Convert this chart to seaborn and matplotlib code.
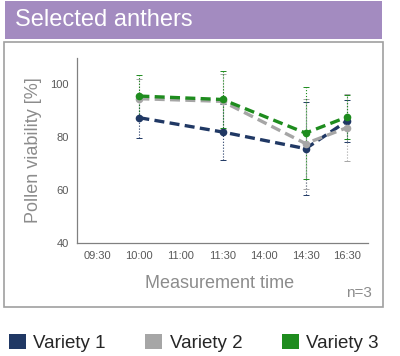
import numpy as np
import pandas as pd
import matplotlib
matplotlib.use("Agg")
import matplotlib.pyplot as plt
from matplotlib.patches import Rectangle, Patch
import seaborn as sns

# data
times = ["09:30", "10:00", "11:00", "11:30", "14:00", "14:30", "16:30"]
measured = ["10:00", "11:30", "14:30", "16:30"]
varieties = ["Variety 1", "Variety 2", "Variety 3"]
v1_mean = [87.4, 82.0, 75.7, 86.2]
v1_err = [7.5, 10.7, 17.5, 8.0]
v2_mean = [94.6, 93.6, 77.6, 83.7]
v2_err = [7.5, 10.5, 17.0, 12.7]
v3_mean = [95.6, 94.3, 81.6, 87.7]
v3_err = [7.8, 10.7, 17.4, 8.3]
colors = ["#203864", "#A6A6A6", "#1E8C1E"]

rows = []
for name, m, e in zip(varieties, [v1_mean, v2_mean, v3_mean], [v1_err, v2_err, v3_err]):
    for t, mv, ev in zip(measured, m, e):
        rows.append({"variety": name, "time": t, "pos": times.index(t), "viability": mv, "err": ev})
df = pd.DataFrame(rows)

sns.set_style("white")
plt.rcParams["font.family"] = ["Liberation Sans", "DejaVu Sans"]

fig = plt.figure(figsize=(4.0, 3.56), dpi=100)

# purple title bar and grey frame
fig.patches.append(Rectangle((5 / 400, 1 - 39 / 356), 377 / 400, 38 / 356, transform=fig.transFigure,
                             facecolor="#A38BC0", edgecolor="none"))
fig.text(15 / 400, 1 - 20 / 356, "Selected anthers", color="white", fontsize=17, va="center", ha="left")
fig.patches.append(Rectangle((4 / 400, 1 - 307 / 356), 379 / 400, 265 / 356, transform=fig.transFigure,
                             facecolor="none", edgecolor="#A0A0A0", linewidth=1.2))

ax = fig.add_axes([77 / 400, 1 - 243 / 356, 291 / 400, 185 / 356])

# dotted error bars
for name, c in zip(varieties, colors):
    sub = df[df["variety"] == name]
    eb = ax.errorbar(sub["pos"], sub["viability"], yerr=sub["err"], fmt="none", ecolor=c,
                     elinewidth=0.8, capsize=2, capthick=0.7, zorder=2)
    eb[2][0].set_linestyle(":")

n_before = len(ax.lines)
sns.lineplot(data=df, x="pos", y="viability", hue="variety", palette=colors, hue_order=varieties,
             marker="o", markersize=5.5, markeredgewidth=0, linestyle="--", linewidth=2.4,
             dashes=False, legend=False, ax=ax, zorder=3)
for ln in ax.lines[n_before:]:
    ln.set_dashes([3, 1.6])

ax.set_xlim(-0.5, len(times) - 0.5)
ax.set_ylim(40, 110)
ax.set_yticks([40, 60, 80, 100])
ax.set_xticks(range(len(times)))
ax.set_xticks(np.arange(-0.5, len(times), 1.0), minor=True)
ax.set_xticklabels(times)
ax.tick_params(axis="x", which="both", direction="in", length=3, color="#808080",
               labelsize=8, labelcolor="#595959", pad=6)
ax.tick_params(axis="y", direction="out", length=4, color="#808080",
               labelsize=8, labelcolor="#595959", pad=2)
for s in ["top", "right"]:
    ax.spines[s].set_visible(False)
for s in ["left", "bottom"]:
    ax.spines[s].set_color("#808080")
    ax.spines[s].set_linewidth(0.9)

ax.set_xlabel("")
ax.set_ylabel("Pollen viability [%]", fontsize=13, color="#8C8C8C", labelpad=6)
fig.text(220 / 400, 1 - 284 / 356, "Measurement time", fontsize=13, color="#8C8C8C",
         ha="center", va="center")
fig.text(372 / 400, 1 - 293 / 356, "n=3", fontsize=11, color="#8C8C8C", ha="right", va="center")

handles = [Patch(facecolor=c, edgecolor="none") for c in colors]
fig.legend(handles, varieties, loc="center left", bbox_to_anchor=(9 / 400, 1 - 343 / 356),
           ncol=3, frameon=False, fontsize=13.5, handlelength=0.9, handleheight=0.9,
           handletextpad=0.4, columnspacing=2.1, borderaxespad=0, borderpad=0)

fig.savefig("out.png", dpi=100)
